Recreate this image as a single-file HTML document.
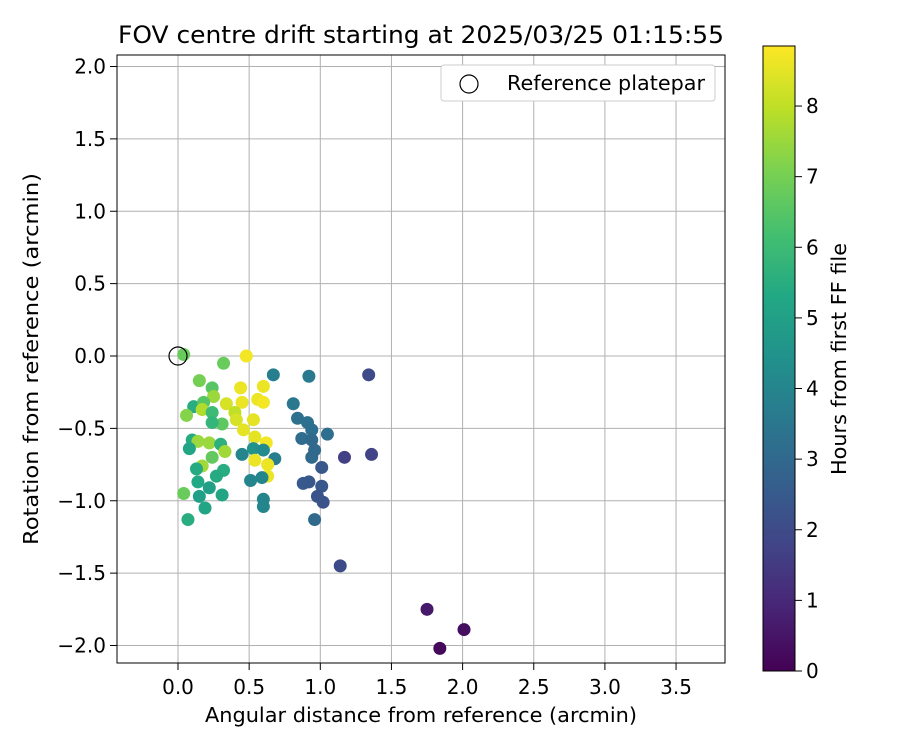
<!DOCTYPE html>
<html><head><meta charset="utf-8"><style>
body{margin:0;background:#fff;}
svg text{font-family:"DejaVu Sans","Liberation Sans",sans-serif;fill:#000;}
</style></head><body>
<svg id="c" width="900" height="750" xmlns="http://www.w3.org/2000/svg">
<defs>
<linearGradient id="vir" x1="0" y1="1" x2="0" y2="0">
<stop offset="0" stop-color="#440154"/><stop offset="0.1" stop-color="#482475"/><stop offset="0.2" stop-color="#414487"/><stop offset="0.3" stop-color="#355f8d"/><stop offset="0.4" stop-color="#2a788e"/><stop offset="0.5" stop-color="#21918c"/><stop offset="0.6" stop-color="#22a884"/><stop offset="0.7" stop-color="#44bf70"/><stop offset="0.8" stop-color="#7ad151"/><stop offset="0.9" stop-color="#bddf26"/><stop offset="1" stop-color="#fde725"/>
</linearGradient>
</defs>
<text x="421" y="43" font-size="24" text-anchor="middle" textLength="606" lengthAdjust="spacingAndGlyphs">FOV centre drift starting at 2025/03/25 01:15:55</text>
<g id="grid"></g>
<g id="pts"></g>
<rect x="117" y="55" width="608" height="608" fill="none" stroke="#000" stroke-width="1"/>
<g id="ticks"></g>
<text x="421" y="722" font-size="20" text-anchor="middle" textLength="432" lengthAdjust="spacingAndGlyphs">Angular distance from reference (arcmin)</text>
<text transform="translate(38,359) rotate(-90)" font-size="20" text-anchor="middle" textLength="372" lengthAdjust="spacingAndGlyphs">Rotation from reference (arcmin)</text>
<g>
<rect x="441" y="65" width="274" height="36" rx="3" fill="#fff" stroke="#ccc"/>
<circle cx="469" cy="84" r="9" fill="none" stroke="#000" stroke-width="1.2"/>
<text x="507" y="90" font-size="20" textLength="198" lengthAdjust="spacingAndGlyphs">Reference platepar</text>
</g>
<rect x="763" y="46" width="32" height="625" fill="url(#vir)" stroke="#000" stroke-width="1"/>
<g id="cbt"></g>
<text transform="translate(846,359) rotate(-90)" font-size="20" text-anchor="middle" textLength="232" lengthAdjust="spacingAndGlyphs">Hours from first FF file</text>
</svg>
<script>
const xTicks=[0,0.5,1,1.5,2,2.5,3,3.5];
const xTickLabels=["0.0","0.5","1.0","1.5","2.0","2.5","3.0","3.5"];
const yTicks=[2,1.5,1,0.5,0,-0.5,-1,-1.5,-2];
const yTickLabels=["2.0","1.5","1.0","0.5","0.0","\u22120.5","\u22121.0","\u22121.5","\u22122.0"];
const cbTicks=[0,1,2,3,4,5,6,7,8];
const xs=[0.04,0.32,0.48,0.67,0.92,0.15,0.24,0.44,0.60,0.25,0.34,0.45,0.56,0.60,0.11,0.18,0.17,0.24,0.06,0.40,0.41,0.53,0.31,0.24,0.81,0.84,0.91,0.94,1.05,0.87,0.94,0.96,0.94,1.17,1.01,0.88,0.92,1.01,0.98,1.02,0.96,0.46,0.54,0.62,0.53,0.60,0.45,0.68,0.54,0.63,0.63,0.51,0.59,0.60,0.60,0.10,0.14,0.22,0.30,0.08,0.33,0.24,0.17,0.13,0.32,0.27,0.14,0.22,0.15,0.31,0.04,0.19,0.07,1.34,1.36,1.14,1.75,2.01,1.84];
const ys=[0.01,-0.05,0.00,-0.13,-0.14,-0.17,-0.22,-0.22,-0.21,-0.28,-0.33,-0.32,-0.30,-0.32,-0.35,-0.32,-0.37,-0.39,-0.41,-0.39,-0.44,-0.44,-0.47,-0.46,-0.33,-0.43,-0.46,-0.51,-0.54,-0.57,-0.58,-0.65,-0.70,-0.70,-0.77,-0.88,-0.87,-0.90,-0.97,-1.01,-1.13,-0.51,-0.56,-0.60,-0.64,-0.65,-0.68,-0.71,-0.72,-0.75,-0.83,-0.86,-0.84,-0.99,-1.04,-0.58,-0.59,-0.60,-0.61,-0.64,-0.66,-0.70,-0.76,-0.78,-0.79,-0.83,-0.87,-0.91,-0.97,-0.96,-0.95,-1.05,-1.13,-0.13,-0.68,-1.45,-1.75,-1.89,-2.02];
const hours=[6.8,6.8,8.7,3.8,3.6,7.0,6.5,8.6,8.6,7.5,8.3,8.6,8.6,8.7,5.5,6.5,7.8,6.0,7.2,8.0,8.3,8.5,6.6,5.8,3.5,3.3,3.3,3.2,3.2,3.1,3.0,3.0,3.0,1.7,2.4,2.5,2.4,2.4,2.3,2.3,3.0,8.5,8.5,8.7,4.5,4.2,4.0,3.7,8.6,8.6,8.6,4.0,4.0,4.0,4.0,5.4,7.5,7.5,5.6,5.2,7.6,6.7,7.6,5.4,5.5,5.4,5.3,5.0,5.0,5.2,6.8,5.2,5.5,2.0,1.8,2.0,0.6,0.3,0.2];
const HMAX=8.85;
const X=v=>178+v*142.3, Y=v=>356-v*144.75, CB=v=>671-v*625/HMAX;
const vir=[[68,1,84],[72,36,117],[65,68,135],[53,95,141],[42,120,142],[33,145,140],[34,168,132],[68,191,112],[122,209,81],[189,223,38],[253,231,37]];
function col(h){let t=Math.max(0,Math.min(1,h/HMAX))*10;let i=Math.min(9,Math.floor(t)),f=t-i;const a=vir[i],b=vir[i+1];return `rgb(${a.map((v,k)=>Math.round(v+(b[k]-v)*f)).join(',')})`;}
const NS="http://www.w3.org/2000/svg";
function mk(t,at,p){const e=document.createElementNS(NS,t);for(const k in at)e.setAttribute(k,at[k]);p.appendChild(e);return e;}
const g=document.getElementById('grid'),tk=document.getElementById('ticks'),pts=document.getElementById('pts'),cbt=document.getElementById('cbt');
xTicks.forEach((v,i)=>{const x=X(v);
const l=mk('line',{x1:x,x2:x,y1:55,y2:663,stroke:'#b0b0b0','stroke-width':1},g);


mk('line',{x1:x,x2:x,y1:663,y2:670,stroke:'#000'},tk);
const t=mk('text',{x:x,y:694,'font-size':20,'text-anchor':'middle'},tk);t.textContent=xTickLabels[i];

});
yTicks.forEach((v,i)=>{const y=Y(v);
const l=mk('line',{x1:117,x2:725,y1:y,y2:y,stroke:'#b0b0b0','stroke-width':1},g);


mk('line',{x1:110,x2:117,y1:y,y2:y,stroke:'#000'},tk);
const t=mk('text',{x:106,y:y+7,'font-size':20,'text-anchor':'end'},tk);t.textContent=yTickLabels[i];

});
xs.forEach((v,i)=>{const c=mk('circle',{cx:X(v),cy:Y(ys[i]),r:6.5,fill:col(hours[i])},pts);

});
const ref=mk('circle',{cx:X(0),cy:Y(0),r:9,fill:'none',stroke:'#000','stroke-width':1.2},pts);


cbTicks.forEach(v=>{const y=CB(v);
mk('line',{x1:795,x2:802,y1:y,y2:y,stroke:'#000'},cbt);
const t=mk('text',{x:806,y:y+7,'font-size':20},cbt);t.textContent=v;

});
</script>
</body></html>
